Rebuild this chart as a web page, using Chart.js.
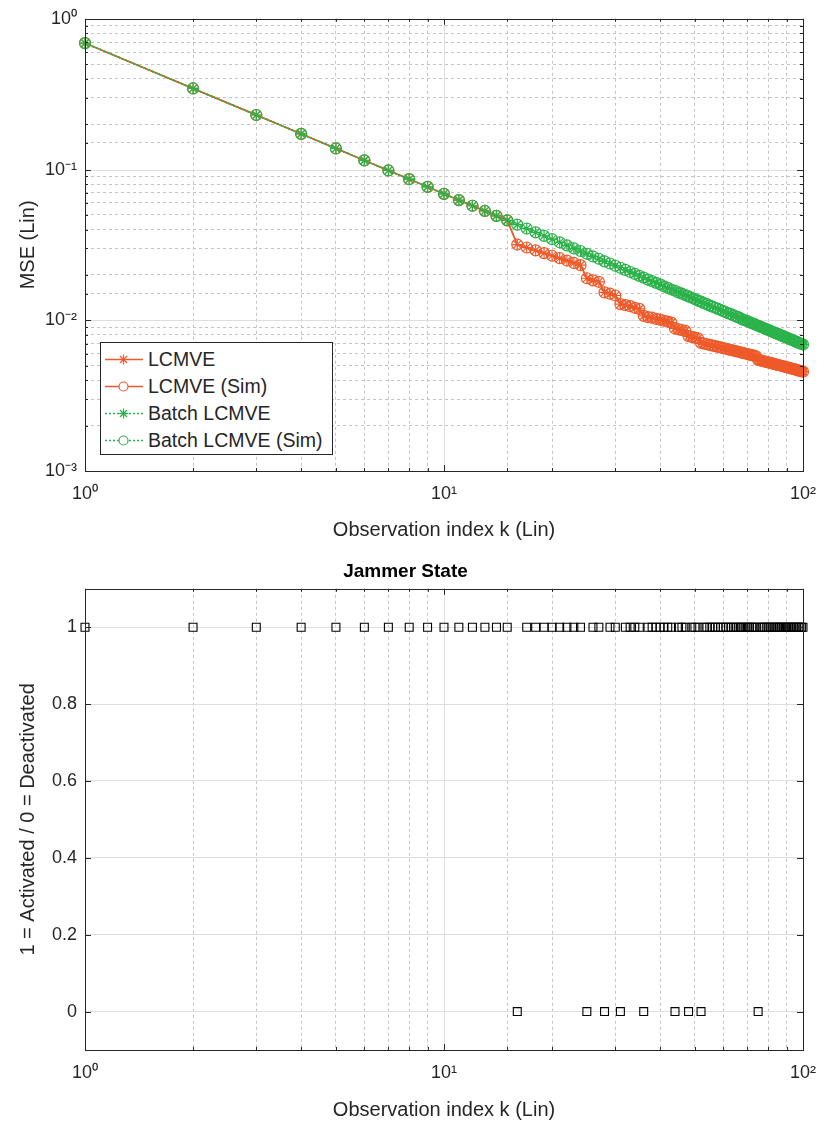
<!DOCTYPE html>
<html>
<head>
<meta charset="utf-8">
<script src="https://cdn.jsdelivr.net/npm/chart.js@4.4.0/dist/chart.umd.min.js"></script>
<style>
  body { margin: 0; background: #fff; width: 828px; height: 1125px; position: relative; overflow: hidden;
         font-family: "Liberation Sans", Arial, Helvetica, sans-serif; }
  .panel { position: absolute; left: 0; width: 828px; }
  #top { top: 0; height: 550px; }
  #bottom { top: 550px; height: 575px; }
  #legend { position: absolute; left: 100px; top: 342px; width: 231px; height: 111px;
            border: 1px solid #262626; background: #fff; color: #262626; font-size: 19.5px; }
  .row { position: absolute; left: 0; width: 229px; height: 27px; line-height: 27px; }
  .row svg { position: absolute; left: 4px; top: 0; }
  .row span { position: absolute; left: 47px; white-space: nowrap; }
</style>
</head>
<body>
<div class="panel" id="top"><canvas id="chart-mse"></canvas></div>
<div class="panel" id="bottom"><canvas id="chart-jammer"></canvas></div>
<div id="legend"></div>
<script>
// observation index k
const kIndex = [
  1, 2, 3, 4, 5, 6, 7, 8, 9, 10,
  11, 12, 13, 14, 15, 16, 17, 18, 19, 20,
  21, 22, 23, 24, 25, 26, 27, 28, 29, 30,
  31, 32, 33, 34, 35, 36, 37, 38, 39, 40,
  41, 42, 43, 44, 45, 46, 47, 48, 49, 50,
  51, 52, 53, 54, 55, 56, 57, 58, 59, 60,
  61, 62, 63, 64, 65, 66, 67, 68, 69, 70,
  71, 72, 73, 74, 75, 76, 77, 78, 79, 80,
  81, 82, 83, 84, 85, 86, 87, 88, 89, 90,
  91, 92, 93, 94, 95, 96, 97, 98, 99, 100
];

// LCMVE mse (theory and sim overlap)
const lcmveMse = [
  0.69, 0.345, 0.23, 0.1725, 0.138, 0.115, 0.0986, 0.0863, 0.0767, 0.069,
  0.0627, 0.0575, 0.0531, 0.0493, 0.046, 0.0318, 0.0304, 0.0291, 0.0279, 0.0268,
  0.0258, 0.0249, 0.024, 0.0232, 0.019, 0.0184, 0.018, 0.0153, 0.015, 0.0146,
  0.0128, 0.0126, 0.0124, 0.0121, 0.0119, 0.0107, 0.0105, 0.0104, 0.0102, 0.0101,
  0.00993, 0.00979, 0.00965, 0.00882, 0.00871, 0.0086, 0.0085, 0.00785, 0.00776, 0.00768,
  0.00759, 0.00707, 0.007, 0.00693, 0.00686, 0.00679, 0.00673, 0.00666, 0.0066, 0.00653,
  0.00647, 0.00641, 0.00635, 0.0063, 0.00624, 0.00618, 0.00613, 0.00607, 0.00602, 0.00597,
  0.00592, 0.00587, 0.00582, 0.00577, 0.00546, 0.00542, 0.00538, 0.00534, 0.0053, 0.00526,
  0.00522, 0.00518, 0.00514, 0.0051, 0.00506, 0.00503, 0.00499, 0.00495, 0.00492, 0.00488,
  0.00485, 0.00482, 0.00478, 0.00475, 0.00472, 0.00468, 0.00465, 0.00462, 0.00459, 0.00456
];

// Batch LCMVE mse (theory and sim overlap)
const batchMse = [
  0.69, 0.345, 0.23, 0.1725, 0.138, 0.115, 0.0986, 0.0863, 0.0767, 0.069,
  0.0627, 0.0575, 0.0531, 0.0493, 0.046, 0.0431, 0.0406, 0.0383, 0.0363, 0.0345,
  0.0329, 0.0314, 0.03, 0.0288, 0.0276, 0.0265, 0.0256, 0.0246, 0.0238, 0.023,
  0.0223, 0.0216, 0.0209, 0.0203, 0.0197, 0.0192, 0.0186, 0.0182, 0.0177, 0.0173,
  0.0168, 0.0164, 0.016, 0.0157, 0.0153, 0.015, 0.0147, 0.0144, 0.0141, 0.0138,
  0.0135, 0.0133, 0.013, 0.0128, 0.0125, 0.0123, 0.0121, 0.0119, 0.0117, 0.0115,
  0.0113, 0.0111, 0.011, 0.0108, 0.0106, 0.0105, 0.0103, 0.0101, 0.01, 0.00986,
  0.00972, 0.00958, 0.00945, 0.00932, 0.0092, 0.00908, 0.00896, 0.00885, 0.00873, 0.00863,
  0.00852, 0.00841, 0.00831, 0.00821, 0.00812, 0.00802, 0.00793, 0.00784, 0.00775, 0.00767,
  0.00758, 0.0075, 0.00742, 0.00734, 0.00726, 0.00719, 0.00711, 0.00704, 0.00697, 0.0069
];

// 1 = activated, 0 = deactivated
const jammerState = [
  1, 1, 1, 1, 1, 1, 1, 1, 1, 1,
  1, 1, 1, 1, 1, 0, 1, 1, 1, 1,
  1, 1, 1, 1, 0, 1, 1, 0, 1, 1,
  0, 1, 1, 1, 1, 0, 1, 1, 1, 1,
  1, 1, 1, 0, 1, 1, 1, 0, 1, 1,
  1, 0, 1, 1, 1, 1, 1, 1, 1, 1,
  1, 1, 1, 1, 1, 1, 1, 1, 1, 1,
  1, 1, 1, 1, 0, 1, 1, 1, 1, 1,
  1, 1, 1, 1, 1, 1, 1, 1, 1, 1,
  1, 1, 1, 1, 1, 1, 1, 1, 1, 1
];

const stateTicks = [0, 0.2, 0.4, 0.6, 0.8, 1];
const legendLabels = ['LCMVE', 'LCMVE (Sim)', 'Batch LCMVE', 'Batch LCMVE (Sim)'];

const RED = '#EE5A2A';
const GREEN = '#2DB24B';
const TEXT = '#262626';
const MAJOR_GRID = '#dedede';
const MINOR_GRID = '#c4c4c4';

Chart.defaults.font.family = '"Liberation Sans", Arial, Helvetica, sans-serif';
Chart.defaults.color = TEXT;

function isPow10(v) {
    const l = Math.log10(v);
    return Math.abs(l - Math.round(l)) < 1e-6;
}

const SUP = { '-': '\u207B', '0': '\u2070', '1': '\u00B9', '2': '\u00B2', '3': '\u00B3' };
function powLabel(v) {
    if (!isPow10(v)) return '';
    const e = Math.round(Math.log10(v));
    return '10' + String(e).split('').map(c => SUP[c]).join('');
}

function toPoints(xs, ys) {
    return xs.map((x, i) => ({ x: x, y: ys[i] }));
}

// solid decade grid lines, inward tick marks and the axes box (matlab look)
const matlabFrame = {
    id: 'matlabFrame',
    beforeDatasetsDraw(chart) {
        const { ctx, chartArea: a, scales } = chart;
        ctx.save();
        ctx.strokeStyle = MAJOR_GRID;
        ctx.lineWidth = 1;
        [scales.x, scales.y].forEach(s => {
            if (s.type !== 'logarithmic') return;
            s.ticks.forEach(t => {
                if (!isPow10(t.value)) return;
                const p = Math.round(s.getPixelForValue(t.value)) + 0.5;
                ctx.beginPath();
                if (s.isHorizontal()) { ctx.moveTo(p, a.top); ctx.lineTo(p, a.bottom); }
                else { ctx.moveTo(a.left, p); ctx.lineTo(a.right, p); }
                ctx.stroke();
            });
        });
        ctx.restore();
    },
    afterDraw(chart) {
        const { ctx, chartArea: a, scales } = chart;
        ctx.save();
        ctx.strokeStyle = TEXT;
        ctx.lineWidth = 1;
        [scales.x, scales.y].forEach(s => {
            s.ticks.forEach(t => {
                const major = s.type !== 'logarithmic' || isPow10(t.value);
                const len = major ? 6 : 3;
                const p = Math.round(s.getPixelForValue(t.value)) + 0.5;
                ctx.beginPath();
                if (s.isHorizontal()) {
                    ctx.moveTo(p, a.bottom); ctx.lineTo(p, a.bottom - len);
                    ctx.moveTo(p, a.top); ctx.lineTo(p, a.top + len);
                } else {
                    ctx.moveTo(a.left, p); ctx.lineTo(a.left + len, p);
                    ctx.moveTo(a.right, p); ctx.lineTo(a.right - len, p);
                }
                ctx.stroke();
            });
        });
        ctx.strokeRect(Math.round(a.left) + 0.5, Math.round(a.top) + 0.5,
                       Math.round(a.right - a.left), Math.round(a.bottom - a.top));
        ctx.restore();
    }
};

function logAxis(min, max, title, titlePad) {
    return {
        type: 'logarithmic',
        min: min,
        max: max,
        border: { display: false, dash: [3, 3] },
        grid: {
            drawTicks: false,
            color: c => (c.tick && isPow10(c.tick.value)) ? 'rgba(0,0,0,0)' : MINOR_GRID
        },
        ticks: { autoSkip: false, maxRotation: 0, font: { size: 18 }, color: TEXT, callback: v => powLabel(v) },
        title: { display: true, text: title, font: { size: 20 }, color: TEXT, padding: titlePad }
    };
}

function loadChartMse() {
    const ctx = document.getElementById('chart-mse').getContext('2d');
    const xAxis = logAxis(1, 100, 'Observation index k (Lin)', { top: 0, bottom: 8 });
    xAxis.ticks.padding = 12;
    xAxis.afterFit = s => { s.height = 79; };
    const yAxis = logAxis(0.001, 1, 'MSE (Lin)', { top: 16, bottom: 0 });
    yAxis.ticks.padding = 8;
    yAxis.afterFit = s => { s.width = 85; };

    const common = { fill: false, tension: 0, clip: false, borderWidth: 1.5,
                     pointRadius: 5.5, pointHoverRadius: 5.5, pointBorderWidth: 1.2,
                     pointBackgroundColor: 'rgba(0,0,0,0)' };
    const myChart = new Chart(ctx, {
        type: 'line',
        data: {
            datasets: [
                Object.assign({}, common, {
                    label: legendLabels[0], data: toPoints(kIndex, lcmveMse), order: 1,
                    borderColor: RED, pointBorderColor: RED, pointStyle: 'star'
                }),
                Object.assign({}, common, {
                    label: legendLabels[1], data: toPoints(kIndex, lcmveMse), order: 1,
                    borderColor: RED, pointBorderColor: RED, pointStyle: 'circle'
                }),
                Object.assign({}, common, {
                    label: legendLabels[2], data: toPoints(kIndex, batchMse), order: 0,
                    borderColor: GREEN, pointBorderColor: GREEN, pointStyle: 'star', borderDash: [2, 2]
                }),
                Object.assign({}, common, {
                    label: legendLabels[3], data: toPoints(kIndex, batchMse), order: 0,
                    borderColor: GREEN, pointBorderColor: GREEN, pointStyle: 'circle', borderDash: [2, 2]
                })
            ]
        },
        options: {
            responsive: true,
            maintainAspectRatio: false,
            animation: false,
            layout: { padding: { top: 13, right: 17, left: 0, bottom: 0 } },
            plugins: { legend: { display: false }, tooltip: { enabled: false } },
            scales: { x: xAxis, y: yAxis }
        },
        plugins: [matlabFrame]
    });
}

function loadChartJammer() {
    const ctx = document.getElementById('chart-jammer').getContext('2d');
    const xAxis = logAxis(1, 100, 'Observation index k (Lin)', { top: 0, bottom: 3 });
    xAxis.ticks.padding = 12;
    xAxis.afterFit = s => { s.height = 75; };
    const myChart = new Chart(ctx, {
        type: 'scatter',
        data: {
            datasets: [{
                label: 'Jammer State',
                data: toPoints(kIndex, jammerState),
                showLine: false,
                clip: false,
                pointStyle: 'rect',
                pointRadius: 5.6,
                pointHoverRadius: 5.6,
                pointBorderWidth: 1.1,
                pointBorderColor: '#000',
                pointBackgroundColor: 'rgba(0,0,0,0)'
            }]
        },
        options: {
            responsive: true,
            maintainAspectRatio: false,
            animation: false,
            layout: { padding: { top: 0, right: 17, left: 0, bottom: 0 } },
            plugins: {
                legend: { display: false },
                tooltip: { enabled: false },
                title: { display: true, text: 'Jammer State', color: '#000',
                         font: { size: 19, weight: 'bold' }, padding: { top: 10, bottom: 6 } }
            },
            scales: {
                x: xAxis,
                y: {
                    type: 'linear',
                    min: -0.1,
                    max: 1.1,
                    border: { display: false },
                    grid: { drawTicks: false, color: MAJOR_GRID },
                    afterBuildTicks: s => { s.ticks = stateTicks.map(v => ({ value: v })); },
                    afterFit: s => { s.width = 85; },
                    ticks: { padding: 8, font: { size: 18 }, color: TEXT,
                             callback: v => String(+Number(v).toFixed(1)) },
                    title: { display: true, text: '1 = Activated / 0 = Deactivated', font: { size: 20 },
                             color: TEXT, padding: { top: 16, bottom: 0 } }
                }
            }
        },
        plugins: [matlabFrame]
    });
}

function buildLegend() {
    const styles = [
        { color: RED, dash: '', marker: 'star' },
        { color: RED, dash: '', marker: 'circle' },
        { color: GREEN, dash: '2 2', marker: 'star' },
        { color: GREEN, dash: '2 2', marker: 'circle' }
    ];
    const tops = [3, 30, 57, 84];
    const box = document.getElementById('legend');
    legendLabels.forEach((label, i) => {
        const st = styles[i];
        const cx = 18.5, cy = 13.5, r = 5, d = r * Math.SQRT1_2;
        const marker = st.marker === 'circle'
            ? `<circle cx="${cx}" cy="${cy}" r="4.5" fill="#fff" stroke="${st.color}" stroke-width="1.2"/>`
            : `<path d="M${cx - r} ${cy}H${cx + r}M${cx} ${cy - r}V${cy + r}M${cx - d} ${cy - d}L${cx + d} ${cy + d}M${cx - d} ${cy + d}L${cx + d} ${cy - d}" stroke="${st.color}" stroke-width="1.2"/>`;
        const row = document.createElement('div');
        row.className = 'row';
        row.style.top = tops[i] + 'px';
        row.innerHTML = `<svg width="39" height="27"><line x1="0" y1="${cy}" x2="38" y2="${cy}" stroke="${st.color}" stroke-width="1.3" stroke-dasharray="${st.dash}"/>${marker}</svg><span>${label}</span>`;
        box.appendChild(row);
    });
}

loadChartMse();
loadChartJammer();
buildLegend();
</script>
</body>
</html>
